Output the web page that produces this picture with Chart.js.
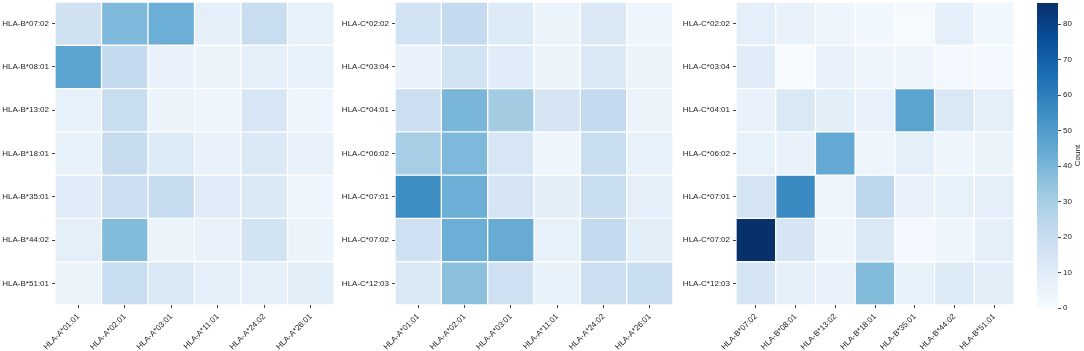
<!DOCTYPE html>
<html lang="en">
<head>
    <meta charset="UTF-8">
    <title>HLA co-occurrence heatmaps</title>
    <style>
        body { margin: 0; background: #fff; }
        #wrap { position: relative; width: 1084px; height: 351px; overflow: hidden; }
        canvas { position: absolute; top: 0; }
    </style>
</head>
<body>
    <div id="wrap">
        <canvas id="c1" width="340" height="351" style="left:0px"></canvas>
        <canvas id="c2" width="340" height="351" style="left:340px"></canvas>
        <canvas id="c3" width="340" height="351" style="left:680px"></canvas>
        <canvas id="cbar" width="54" height="351" style="left:1030px"></canvas>
    </div>
    <script src="https://cdn.jsdelivr.net/npm/chart.js@4"></script>
    <script>
        const allelesA = ['HLA-A*01:01', 'HLA-A*02:01', 'HLA-A*03:01', 'HLA-A*11:01', 'HLA-A*24:02', 'HLA-A*26:01'];
        const allelesB = ['HLA-B*07:02', 'HLA-B*08:01', 'HLA-B*13:02', 'HLA-B*18:01', 'HLA-B*35:01', 'HLA-B*44:02', 'HLA-B*51:01'];
        const allelesC = ['HLA-C*02:02', 'HLA-C*03:04', 'HLA-C*04:01', 'HLA-C*06:02', 'HLA-C*07:01', 'HLA-C*07:02', 'HLA-C*12:03'];

        // rows = B alleles, columns = A alleles
        const countsBA = [
            [17, 39, 43, 8, 20, 7],
            [47, 22, 6, 5, 8, 7],
            [7, 20, 5, 4, 14, 4],
            [7, 21, 11, 6, 12, 6],
            [10, 19, 21, 10, 12, 4],
            [8, 38, 5, 6, 16, 5],
            [5, 20, 13, 8, 8, 9]
        ];
        // rows = C alleles, columns = A alleles
        const countsCA = [
            [16, 22, 11, 5, 12, 4],
            [6, 16, 10, 5, 12, 5],
            [19, 40, 31, 15, 22, 5],
            [30, 39, 14, 4, 20, 7],
            [55, 43, 15, 9, 20, 8],
            [18, 43, 44, 7, 22, 9],
            [13, 36, 18, 7, 19, 20]
        ];
        // rows = C alleles, columns = B alleles
        const countsCB = [
            [8, 6, 4, 3, 1, 8, 3],
            [10, 0, 6, 4, 4, 2, 2],
            [6, 13, 9, 6, 47, 13, 8],
            [7, 6, 45, 4, 8, 4, 5],
            [15, 56, 4, 24, 6, 7, 8],
            [86, 15, 4, 12, 2, 4, 8],
            [15, 8, 6, 38, 7, 11, 9]
        ];

        const countMax = 86;
        const cbarTicks = [0, 10, 20, 30, 40, 50, 60, 70, 80];

        // matplotlib "Blues"
        const blues = ['#f7fbff', '#deebf7', '#c6dbef', '#9ecae1', '#6baed6', '#4292c6', '#2171b5', '#08519c', '#08306b'];

        function hexToRgb(h) {
            return [parseInt(h.slice(1, 3), 16), parseInt(h.slice(3, 5), 16), parseInt(h.slice(5, 7), 16)];
        }
        function bluesColor(v) {
            let t = Math.max(0, Math.min(1, v / countMax)) * (blues.length - 1);
            const i = Math.min(Math.floor(t), blues.length - 2);
            const f = t - i;
            const a = hexToRgb(blues[i]), b = hexToRgb(blues[i + 1]);
            const c = a.map((x, k) => Math.round(x + (b[k] - x) * f));
            return `rgb(${c[0]},${c[1]},${c[2]})`;
        }

        const tickFont = { family: 'Liberation Sans, Arial, sans-serif', size: 8 };
        const tickColor = '#222';

        Chart.defaults.animation = false;
        Chart.defaults.font.family = tickFont.family;

        // drop the extra room chart.js keeps for half a label at the ends
        function noPad(s) {
            s.paddingTop = 0; s.paddingBottom = 0;
            s.paddingLeft = 0; s.paddingRight = 0;
        }

        function heatmap(id, rows, cols, counts, yWidth, padRight) {
            const datasets = rows.map((r, ri) => ({
                label: r,
                data: cols.map(() => 1),
                backgroundColor: cols.map((c, ci) => bluesColor(counts[ri][ci])),
                borderColor: '#fff',
                borderWidth: 1,
                borderSkipped: false,
                barPercentage: 1,
                categoryPercentage: 1
            }));
            new Chart(document.getElementById(id), {
                type: 'bar',
                data: { labels: cols, datasets },
                options: {
                    responsive: false,
                    layout: { padding: { top: 2, right: padRight, left: 0, bottom: 0 } },
                    plugins: { legend: { display: false }, tooltip: { enabled: false } },
                    scales: {
                        x: {
                            stacked: true,
                            grid: { display: true, offset: false, drawOnChartArea: false, drawTicks: true, tickLength: 3, color: '#444' },
                            border: { display: false },
                            ticks: { color: tickColor, font: tickFont, maxRotation: 45, minRotation: 45, padding: 4, autoSkip: false },
                            afterFit: s => { s.height = 46; noPad(s); }
                        },
                        y: {
                            stacked: true,
                            reverse: true,
                            min: 0,
                            max: rows.length,
                            grid: { display: true, drawOnChartArea: false, drawTicks: true, tickLength: 3, color: '#444' },
                            border: { display: false },
                            afterBuildTicks: s => { s.ticks = rows.map((r, i) => ({ value: i + 0.5 })); },
                            ticks: { color: tickColor, font: tickFont, padding: 3, callback: (v, i) => rows[i] },
                            afterFit: s => { s.width = yWidth; noPad(s); }
                        }
                    }
                }
            });
        }

        heatmap('c1', allelesB, allelesA, countsBA, 55, 6);
        heatmap('c2', allelesC, allelesA, countsCA, 55, 7);
        heatmap('c3', allelesC, allelesB, countsCB, 56, 6);

        // colour bar
        const cbarTitle = {
            id: 'cbarTitle',
            afterDraw(chart) {
                const { ctx, chartArea } = chart;
                ctx.save();
                ctx.translate(48, (chartArea.top + chartArea.bottom) / 2);
                ctx.rotate(-Math.PI / 2);
                ctx.fillStyle = tickColor;
                ctx.font = '8px ' + tickFont.family;
                ctx.textAlign = 'center';
                ctx.textBaseline = 'middle';
                ctx.fillText('Count', 0, 0);
                ctx.restore();
            }
        };

        new Chart(document.getElementById('cbar'), {
            type: 'bar',
            data: {
                labels: [''],
                datasets: [{
                    data: [countMax],
                    barPercentage: 1,
                    categoryPercentage: 1,
                    backgroundColor: ctx => {
                        const area = ctx.chart.chartArea;
                        if (!area) return blues[4];
                        const g = ctx.chart.ctx.createLinearGradient(0, area.bottom, 0, area.top);
                        blues.forEach((c, i) => g.addColorStop(i / (blues.length - 1), c));
                        return g;
                    }
                }]
            },
            options: {
                responsive: false,
                layout: { padding: { top: 3, left: 7, right: 0, bottom: 43 } },
                plugins: { legend: { display: false }, tooltip: { enabled: false } },
                scales: {
                    x: { display: false },
                    y: {
                        position: 'right',
                        min: 0,
                        max: countMax,
                        grid: { display: true, drawOnChartArea: false, drawTicks: true, tickLength: 3, color: '#444' },
                        border: { display: false },
                        afterBuildTicks: s => { s.ticks = cbarTicks.map(v => ({ value: v })); },
                        ticks: { color: tickColor, font: tickFont, padding: 2 },
                        afterFit: s => { s.width = 26; noPad(s); }
                    }
                }
            },
            plugins: [cbarTitle]
        });
    </script>
</body>
</html>
